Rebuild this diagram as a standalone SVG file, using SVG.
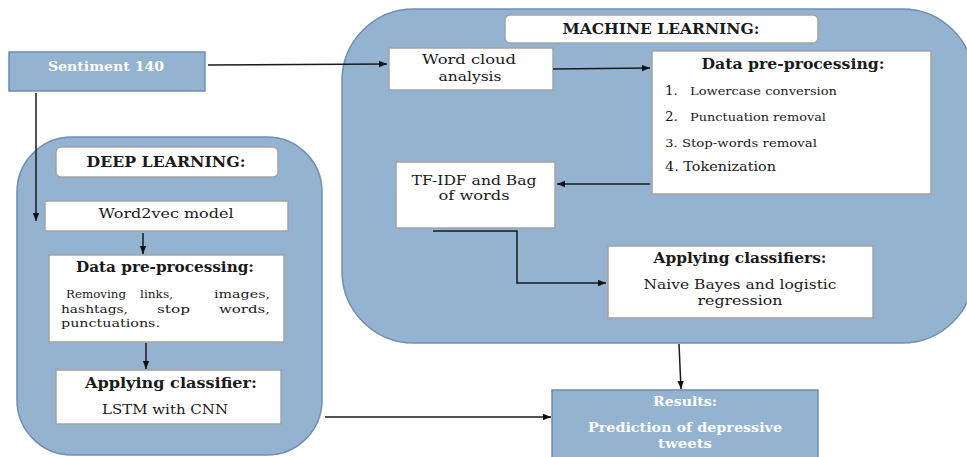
<svg xmlns="http://www.w3.org/2000/svg" width="967" height="457" viewBox="0 0 967 457">
<defs>
<marker id="ah" viewBox="0 0 10 10" refX="10" refY="5" markerWidth="8" markerHeight="8" markerUnits="userSpaceOnUse" orient="auto">
<path d="M0,1 L10,5 L0,9 z" fill="#111"/>
</marker>
<style>
.cont{fill:#93b3d1;stroke:#6f8fb0;stroke-width:1.5}
.blue{fill:#93b3d1;stroke:#6f8fb0;stroke-width:1.5}
.wb{fill:#ffffff;stroke:#a3a3a3;stroke-width:1.5}
text{font-family:"DejaVu Serif","Liberation Serif",serif;fill:#1a1a1a}
.t{font-size:13.5px}
.j{font-size:11.5px}
.b{font-size:14px;font-weight:bold}
.s{font-size:11px}
.w{fill:#ffffff;font-weight:bold;font-size:13.5px}
.c{stroke:#1a1a1a;stroke-width:1.5;fill:none}
</style>
</defs>
<rect width="967" height="457" fill="#ffffff"/>

<g id="ml-container">
<rect class="cont" x="342" y="9" width="632" height="334" rx="72" ry="72"/>
</g>
<g id="dl-container">
<rect class="cont" x="17" y="137" width="305" height="318" rx="55" ry="55"/>
</g>

<g id="sentiment">
<rect class="blue" x="9" y="52" width="196" height="39"/>
<text class="w" x="106" y="71" text-anchor="middle" textLength="116" lengthAdjust="spacingAndGlyphs">Sentiment 140</text>
</g>

<g id="ml-title">
<rect class="wb" x="505" y="15" width="313" height="28" rx="5"/>
<text class="b" x="661" y="34" text-anchor="middle" textLength="197" lengthAdjust="spacingAndGlyphs">MACHINE LEARNING:</text>
</g>

<g id="word-cloud">
<rect class="wb" x="389" y="48" width="164" height="42"/>
<text class="t" x="469" y="64" text-anchor="middle" textLength="94" lengthAdjust="spacingAndGlyphs">Word cloud</text>
<text class="t" x="470" y="81" text-anchor="middle" textLength="63" lengthAdjust="spacingAndGlyphs">analysis</text>
</g>

<g id="ml-preprocessing">
<rect class="wb" x="652" y="51" width="279" height="143"/>
<text class="b" x="793" y="69" text-anchor="middle" textLength="183" lengthAdjust="spacingAndGlyphs">Data pre-processing:</text>
<text class="t" x="665" y="95">1.</text>
<text class="s" x="690" y="95" textLength="147" lengthAdjust="spacingAndGlyphs">Lowercase conversion</text>
<text class="t" x="665" y="121">2.</text>
<text class="s" x="690" y="121" textLength="136" lengthAdjust="spacingAndGlyphs">Punctuation removal</text>
<text class="s" x="665" y="147" textLength="152" lengthAdjust="spacingAndGlyphs">3.  Stop-words removal</text>
<text x="665" y="171" font-size="12.5" textLength="111" lengthAdjust="spacingAndGlyphs">4. Tokenization</text>
</g>

<g id="tfidf">
<rect class="wb" x="396" y="162" width="159" height="66"/>
<text class="t" x="474" y="185" text-anchor="middle" textLength="125" lengthAdjust="spacingAndGlyphs">TF-IDF and Bag</text>
<text class="t" x="474" y="200" text-anchor="middle" textLength="71" lengthAdjust="spacingAndGlyphs">of words</text>
</g>

<g id="ml-classifiers">
<rect class="wb" x="608" y="246" width="265" height="72"/>
<text class="b" x="740" y="263" text-anchor="middle" textLength="173" lengthAdjust="spacingAndGlyphs">Applying classifiers:</text>
<text class="t" x="740" y="289" text-anchor="middle" textLength="193" lengthAdjust="spacingAndGlyphs">Naive Bayes and logistic</text>
<text class="t" x="740" y="305" text-anchor="middle" textLength="85" lengthAdjust="spacingAndGlyphs">regression</text>
</g>

<g id="dl-title">
<rect class="wb" x="56" y="147" width="222" height="30" rx="5"/>
<text class="b" x="166" y="167" text-anchor="middle" textLength="159" lengthAdjust="spacingAndGlyphs">DEEP LEARNING:</text>
</g>

<g id="word2vec">
<rect class="wb" x="45" y="201" width="243" height="30"/>
<text class="t" x="166" y="218" text-anchor="middle" textLength="135" lengthAdjust="spacingAndGlyphs">Word2vec model</text>
</g>

<g id="dl-preprocessing">
<rect class="wb" x="49" y="255" width="235" height="87"/>
<text class="b" x="165" y="272" text-anchor="middle" textLength="178" lengthAdjust="spacingAndGlyphs">Data pre-processing:</text>
<text class="j" x="66" y="298" textLength="60" lengthAdjust="spacingAndGlyphs">Removing</text>
<text class="j" x="140" y="298" textLength="33" lengthAdjust="spacingAndGlyphs">links,</text>
<text class="j" x="214" y="298" textLength="56" lengthAdjust="spacingAndGlyphs">images,</text>
<text class="j" x="61" y="312.5" textLength="67" lengthAdjust="spacingAndGlyphs">hashtags,</text>
<text class="j" x="157" y="312.5" textLength="33" lengthAdjust="spacingAndGlyphs">stop</text>
<text class="j" x="219" y="312.5" textLength="51" lengthAdjust="spacingAndGlyphs">words,</text>
<text class="j" x="61" y="327" textLength="99" lengthAdjust="spacingAndGlyphs">punctuations.</text>
</g>

<g id="dl-classifier">
<rect class="wb" x="56" y="370" width="225" height="54"/>
<text class="b" x="171" y="388" text-anchor="middle" textLength="172" lengthAdjust="spacingAndGlyphs">Applying classifier:</text>
<text class="t" x="165" y="414" text-anchor="middle" textLength="126" lengthAdjust="spacingAndGlyphs">LSTM with CNN</text>
</g>

<g id="results">
<rect class="blue" x="552" y="390" width="266" height="72"/>
<text class="w" x="685" y="406" text-anchor="middle" textLength="64" lengthAdjust="spacingAndGlyphs">Results:</text>
<text class="w" x="685" y="432" text-anchor="middle" textLength="194" lengthAdjust="spacingAndGlyphs">Prediction of depressive</text>
<text class="w" x="685" y="448" text-anchor="middle" textLength="54" lengthAdjust="spacingAndGlyphs">tweets</text>
</g>

<g id="connectors">
<path class="c" d="M208,65 L387,64" marker-end="url(#ah)"/>
<path class="c" d="M36,93 L36,221" marker-end="url(#ah)"/>
<path class="c" d="M553,69 L650,68" marker-end="url(#ah)"/>
<path class="c" d="M650,184 L557,184" marker-end="url(#ah)"/>
<path class="c" d="M433,231 L517,231 L517,283 L606,283" marker-end="url(#ah)"/>
<path class="c" d="M143,233 L143,254" marker-end="url(#ah)"/>
<path class="c" d="M146,343 L146,369" marker-end="url(#ah)"/>
<path class="c" d="M679,344 L681,389" marker-end="url(#ah)"/>
<path class="c" d="M325,417 L551,417" marker-end="url(#ah)"/>
</g>
</svg>
